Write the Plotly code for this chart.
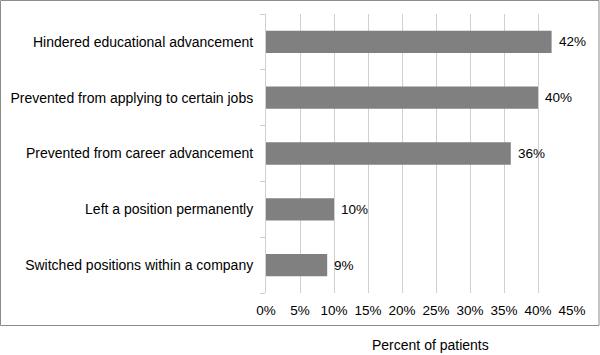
import plotly.graph_objects as go

categories = [
    "Hindered educational advancement",
    "Prevented from applying to certain jobs",
    "Prevented from career advancement",
    "Left a position permanently",
    "Switched positions within a company",
]
values = [42, 40, 36, 10, 9]
x_ticks = [0, 5, 10, 15, 20, 25, 30, 35, 40, 45]
x_tick_labels = [f"{v}%" for v in x_ticks]
value_labels = [f"{v}%" for v in values]

W, H = 600, 355
L, R, T, B = 266, 28, 14, 62
pw, ph = W - L - R, H - T - B

def px_x(p):
    return (p - L) / pw

def px_y(p):
    return (H - B - p) / ph

fig = go.Figure()
fig.add_trace(go.Bar(
    y=categories, x=values, orientation="h",
    marker=dict(color="#808080", line=dict(width=0)),
    width=0.4,
    hoverinfo="skip",
))

for c, v, t in zip(categories, values, value_labels):
    fig.add_annotation(x=v, y=c, text=t, showarrow=False, xanchor="left",
                       xshift=5, font=dict(size=13.5, color="#000000"))

fig.add_annotation(x=px_x(430), y=px_y(345), xref="paper", yref="paper",
                   xanchor="center", yanchor="middle",
                   text="Percent of patients", showarrow=False,
                   font=dict(size=14, color="#000000"))

fig.add_shape(type="rect", xref="paper", yref="paper",
              x0=px_x(0.5), x1=px_x(599), y0=px_y(325.5), y1=px_y(0.5),
              line=dict(color="#8c8c8c", width=1), fillcolor="rgba(0,0,0,0)")

fig.update_layout(
    width=W, height=H,
    margin=dict(l=L, r=R, t=T, b=B, autoexpand=False),
    paper_bgcolor="white", plot_bgcolor="white",
    font=dict(family="Liberation Sans, Arial, sans-serif", size=14, color="#000000"),
    showlegend=False,
    xaxis=dict(range=[0, 45], tickvals=x_ticks, ticktext=x_tick_labels,
               showgrid=True, gridcolor="#d0d0d0", gridwidth=1,
               zeroline=False, showline=False, ticks="outside", ticklen=5,
               tickcolor="rgba(0,0,0,0)",
               tickfont=dict(size=13.5)),
    yaxis=dict(categoryorder="array", categoryarray=categories[::-1],
               tickson="boundaries", ticks="outside", ticklen=5,
               tickcolor="#d0d0d0", showline=True, linecolor="#d0d0d0",
               showgrid=False, zeroline=False, tickfont=dict(size=14),
               ticklabelstandoff=9),
)

fig.write_html("out.html", config={"displayModeBar": False},
               post_script="document.body.style.margin='0';document.body.style.padding='0';")
